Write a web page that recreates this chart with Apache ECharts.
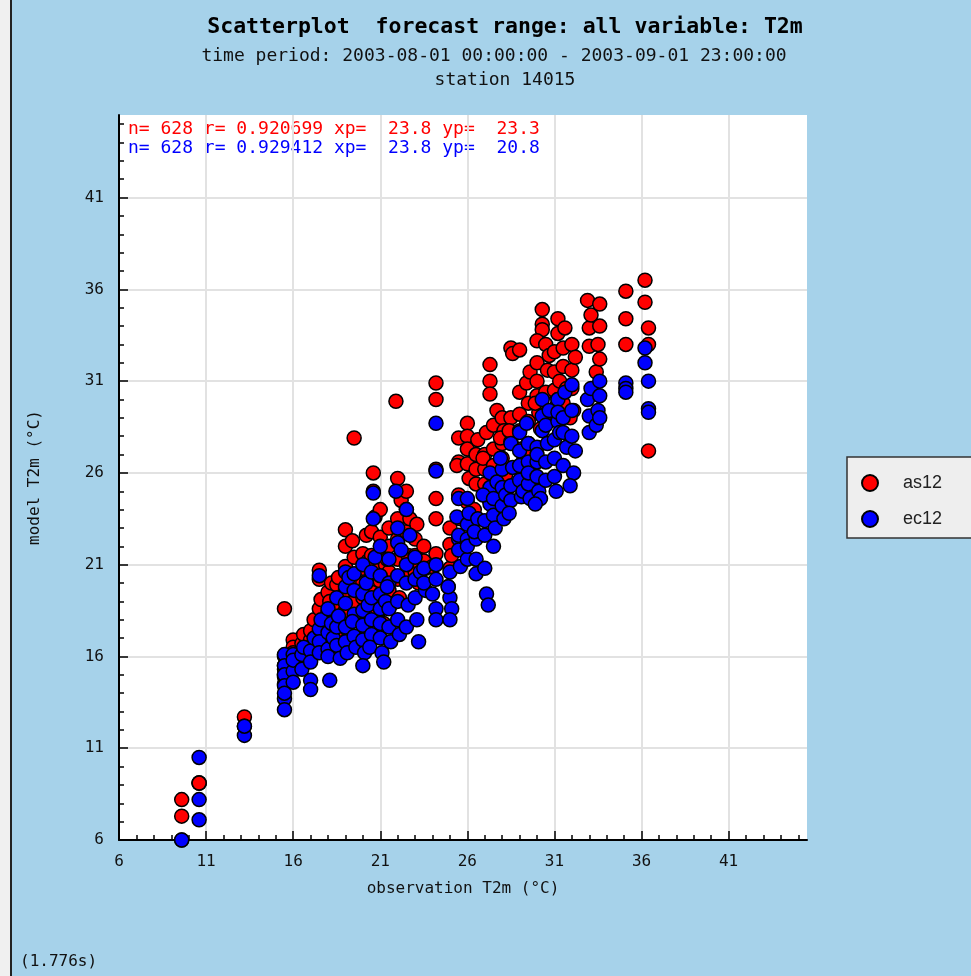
<!DOCTYPE html>
<html>
<head>
<meta charset="utf-8">
<script src="https://cdn.jsdelivr.net/npm/echarts@6/dist/echarts.min.js"></script>
<style>
html,body{margin:0;padding:0;background:#a6d2ea;}
#chart{width:971px;height:976px;}
</style>
</head>
<body>
<div id="chart"></div>
<script>
// observation T2m values (shared by both models)
const obs = [
9.6,9.6,10.6,10.6,10.6,13.2,13.2,15.5,15.5,15.5,
15.5,15.5,15.5,15.5,16.0,16.0,16.0,16.0,16.5,16.5,
16.6,17.0,17.0,17.0,17.2,17.0,17.5,17.5,17.5,17.5,
17.6,18.0,18.0,18.0,18.1,18.2,18.0,18.3,18.5,18.5,
18.5,18.6,18.7,19.0,19.0,19.0,19.0,19.0,19.1,19.2,
19.5,19.5,19.5,19.5,19.6,19.4,20.0,20.0,20.0,20.0,
20.0,20.1,20.2,20.0,20.3,20.6,20.6,20.5,20.5,20.5,
20.5,20.4,20.7,21.0,21.0,21.0,21.0,21.0,21.1,21.0,
21.2,21.3,21.5,21.5,21.5,21.5,21.6,21.4,21.9,22.0,
22.0,22.0,22.0,22.0,22.1,22.2,22.5,22.5,22.5,22.6,
22.5,22.7,23.0,23.0,23.0,23.1,23.2,23.3,23.5,23.6,
23.5,24.2,24.2,24.2,24.2,24.2,24.2,24.0,25.0,25.0,
25.1,25.0,24.9,25.5,25.5,25.4,25.5,25.6,25.5,26.0,
26.0,26.0,26.0,26.1,26.0,26.5,26.5,26.5,26.6,26.4,
27.3,27.3,27.3,27.0,27.0,27.0,27.1,27.2,26.9,27.7,
27.5,27.5,27.5,27.6,28.0,28.0,28.0,28.1,28.2,27.9,
28.5,28.6,28.5,28.5,28.4,29.0,29.0,29.0,29.0,29.1,
29.2,29.4,29.5,29.5,29.5,29.6,29.5,30.3,30.3,30.3,
30.0,30.0,30.0,30.1,30.2,30.0,29.9,30.5,30.6,30.5,
30.5,30.7,31.2,31.2,31.0,31.0,31.0,31.1,31.3,31.2,
31.6,31.5,31.5,31.7,31.5,32.0,32.0,32.0,32.1,32.2,
31.9,32.9,33.0,33.0,33.1,33.6,33.6,33.5,33.4,33.6,
35.1,35.1,35.1,36.2,36.2,36.4,36.4,36.4
];
// model as12 T2m
const as12 = [
8.2,7.3,9.1,9.1,9.1,12.7,12.2,18.6,16.0,15.5,
15.0,14.5,14.9,15.3,16.9,16.5,15.8,16.2,16.7,16.2,
17.2,16.9,15.8,17.4,18.0,16.4,20.7,20.2,18.6,17.2,
19.1,19.5,18.4,17.6,19.0,20.0,16.8,17.9,19.9,18.8,
17.4,20.3,16.5,22.9,22.0,20.9,19.6,18.5,17.5,20.4,
27.9,21.4,20.2,19.0,18.0,22.3,21.6,20.8,20.0,19.2,
18.4,17.6,22.6,19.6,21.2,26.0,25.0,22.8,21.5,20.5,
19.5,18.6,23.6,22.5,21.7,20.9,20.1,19.3,18.6,24.0,
17.8,21.0,23.0,22.0,20.6,19.6,18.8,21.3,29.9,25.7,
23.5,22.4,21.3,20.2,19.2,24.5,25.0,24.0,22.8,21.5,
20.3,23.5,22.4,21.5,20.6,23.2,20.0,21.0,22.0,20.8,
21.2,30.9,30.0,26.2,24.6,23.5,21.6,20.9,22.1,20.8,
21.5,23.0,19.8,27.9,26.6,26.4,24.8,23.5,22.5,28.7,
28.0,27.3,26.5,25.7,24.4,27.0,26.2,25.4,27.8,24.0,
31.9,31.0,30.3,27.0,26.2,25.4,28.2,24.6,26.8,29.4,
28.6,27.3,26.4,25.6,29.0,27.6,26.8,28.3,25.9,27.9,
32.8,32.5,29.0,27.7,28.3,32.7,30.4,29.2,28.3,27.3,
26.6,30.9,29.8,28.8,27.6,31.5,26.9,34.9,34.1,33.8,
32.0,31.0,30.2,29.3,28.4,33.2,29.8,33.0,31.6,30.4,
29.2,32.4,34.4,33.6,32.6,31.5,30.5,29.6,31.0,30.0,
33.9,32.8,31.8,30.6,29.8,33.0,31.6,30.6,29.4,32.3,
29.0,35.4,33.9,32.9,34.6,35.2,34.0,33.0,31.5,32.2,
35.9,34.4,33.0,36.5,35.3,33.9,33.0,27.2
];
// model ec12 T2m
const ec12 = [
6.0,6.0,10.5,8.2,7.1,11.7,12.2,16.1,15.5,15.0,
14.4,13.7,13.1,14.0,16.1,15.2,14.6,15.8,16.1,15.3,
16.5,14.7,14.2,16.3,17.0,15.7,20.4,17.5,16.8,16.2,
18.0,18.6,17.3,16.4,14.7,17.8,16.0,17.0,19.2,17.6,
16.6,18.2,15.9,20.6,19.8,18.9,17.6,16.8,16.2,20.3,
20.5,19.6,18.3,17.1,16.5,17.9,21.0,19.4,18.5,17.7,
16.9,16.2,20.0,15.5,18.8,24.9,23.5,20.6,19.2,18.0,
17.2,16.5,21.4,20.4,19.4,18.6,17.8,17.0,16.2,22.0,
15.7,19.0,21.3,20.0,18.6,17.6,16.8,19.8,25.0,23.0,
22.2,20.4,19.0,18.0,17.2,21.8,24.0,21.0,20.0,18.8,
17.6,22.6,21.4,20.2,19.2,18.0,16.8,20.6,20.8,19.6,
20.0,28.7,26.1,20.2,21.0,18.6,18.0,19.4,20.6,19.2,
18.6,18.0,19.8,24.6,22.4,23.6,21.8,20.9,22.6,24.6,
23.2,22.4,21.3,23.8,22.0,22.4,21.3,20.5,23.5,22.8,
26.0,25.2,24.3,23.4,22.6,20.8,19.4,18.8,24.8,25.5,
24.6,23.7,22.0,23.0,26.2,25.2,24.2,23.5,24.8,26.8,
27.6,26.3,25.3,24.5,23.8,28.2,27.2,26.4,25.6,24.7,
25.0,28.7,27.6,26.6,25.4,24.6,26.0,30.0,29.1,28.3,
27.4,26.6,25.8,25.0,24.6,27.0,24.3,28.6,27.6,26.6,
25.6,29.4,30.0,28.8,27.8,26.8,25.8,25.0,28.2,29.3,
30.4,29.0,28.2,27.4,26.4,30.8,29.4,28.0,26.0,27.2,
25.3,30.0,29.1,28.2,30.6,31.0,30.2,29.4,28.6,29.0,
30.9,30.6,30.4,32.8,32.0,29.5,31.0,29.3
];
const seriesNames = ['as12', 'ec12'];
const xTicks = [6, 11, 16, 21, 26, 31, 36, 41];
const yTicks = [6, 11, 16, 21, 26, 31, 36, 41];
const axisMin = 6, axisMax = 45.5;
const titleText = 'Scatterplot  forecast range: all variable: T2m';
const subtitleText = 'time period: 2003-08-01 00:00:00 - 2003-09-01 23:00:00';
const stationText = 'station 14015';
const statsAs = 'n= 628 r= 0.920699 xp=  23.8 yp=  23.3';
const statsEc = 'n= 628 r= 0.929412 xp=  23.8 yp=  20.8';
const timingText = '(1.776s)';

const minorTicks = [];
for (let v = axisMin; v <= axisMax; v += 1) minorTicks.push(v);

const mono = '"DejaVu Sans Mono", "Liberation Mono", monospace';
const lineCol = '#000';

function mainAxis(isX, ticks, name) {
  return {
    type: 'value', min: axisMin, max: axisMax,
    position: isX ? 'bottom' : 'left',
    name: name, nameLocation: 'middle', nameGap: isX ? 41 : 76,
    nameTextStyle: {fontFamily: mono, fontSize: 16, color: '#111'},
    axisLine: {show: true, onZero: false, lineStyle: {color: lineCol, width: 2}},
    axisTick: {show: true, inside: true, length: 9, customValues: ticks, lineStyle: {color: lineCol, width: 1.5}},
    axisLabel: {customValues: ticks, fontFamily: mono, fontSize: 16, color: '#111', margin: isX ? 14 : 15},
    splitLine: {show: true, lineStyle: {color: '#e2e2e2', width: 2}},
    minorTick: {show: false}
  };
}
function minorAxis(isX) {
  return {
    type: 'value', min: axisMin, max: axisMax,
    position: isX ? 'bottom' : 'left',
    axisLine: {show: false},
    axisTick: {show: true, inside: true, length: 5, customValues: minorTicks, lineStyle: {color: lineCol, width: 1.5}},
    axisLabel: {show: false},
    splitLine: {show: false}
  };
}

const chart = echarts.init(document.getElementById('chart'), null, {renderer: 'canvas'});
const option = {
  backgroundColor: '#a6d2ea',
  animation: false,
  grid: {left: 119, top: 115, right: 164, bottom: 136, show: true, backgroundColor: '#ffffff', borderWidth: 0},
  xAxis: [mainAxis(true, xTicks, 'observation T2m (°C)'), minorAxis(true)],
  yAxis: [mainAxis(false, yTicks, 'model T2m (°C)'), minorAxis(false)],
  legend: {
    data: seriesNames, orient: 'vertical', left: 847, top: 457,
    padding: [17, 70, 10, 14], itemGap: 18, itemWidth: 46, itemHeight: 16,
    backgroundColor: '#eeeeee', borderColor: '#333', borderWidth: 1.5,
    textStyle: {fontFamily: '"Liberation Sans", Arial, sans-serif', fontSize: 18, color: '#222', padding: [0, 0, 0, 5]}
  },
  series: [
    {name: seriesNames[0], type: 'scatter', symbol: 'circle', symbolSize: 14,
     itemStyle: {color: '#ff0000', borderColor: '#000', borderWidth: 1.5, opacity: 1},
     data: obs.map((o, i) => [o, as12[i]])},
    {name: seriesNames[1], type: 'scatter', symbol: 'circle', symbolSize: 14,
     itemStyle: {color: '#0000ff', borderColor: '#000', borderWidth: 1.5, opacity: 1},
     data: obs.map((o, i) => [o, ec12[i]])}
  ],
  graphic: [
    {type: 'rect', shape: {x: 0, y: 0, width: 10, height: 976}, style: {fill: '#f0f0f0'}, silent: true},
    {type: 'line', shape: {x1: 11, y1: 0, x2: 11, y2: 976}, style: {stroke: '#222', lineWidth: 2}, silent: true},
    {type: 'text', x: 505, y: 27, style: {text: titleText, font: 'bold 21.5px ' + mono, fill: '#000', align: 'center', verticalAlign: 'middle'}},
    {type: 'text', x: 494, y: 56, style: {text: subtitleText, font: '18px ' + mono, fill: '#111', align: 'center', verticalAlign: 'middle'}},
    {type: 'text', x: 505, y: 80, style: {text: stationText, font: '18px ' + mono, fill: '#111', align: 'center', verticalAlign: 'middle'}},
    {type: 'text', x: 128, y: 129, style: {text: statsAs, font: '18px ' + mono, fill: '#ff0000', align: 'left', verticalAlign: 'middle'}},
    {type: 'text', x: 128, y: 148, style: {text: statsEc, font: '18px ' + mono, fill: '#0000ff', align: 'left', verticalAlign: 'middle'}},
    {type: 'text', x: 20, y: 962, style: {text: timingText, font: '16px ' + mono, fill: '#111', align: 'left', verticalAlign: 'middle'}}
  ]
};
chart.setOption(option);
</script>
</body>
</html>
